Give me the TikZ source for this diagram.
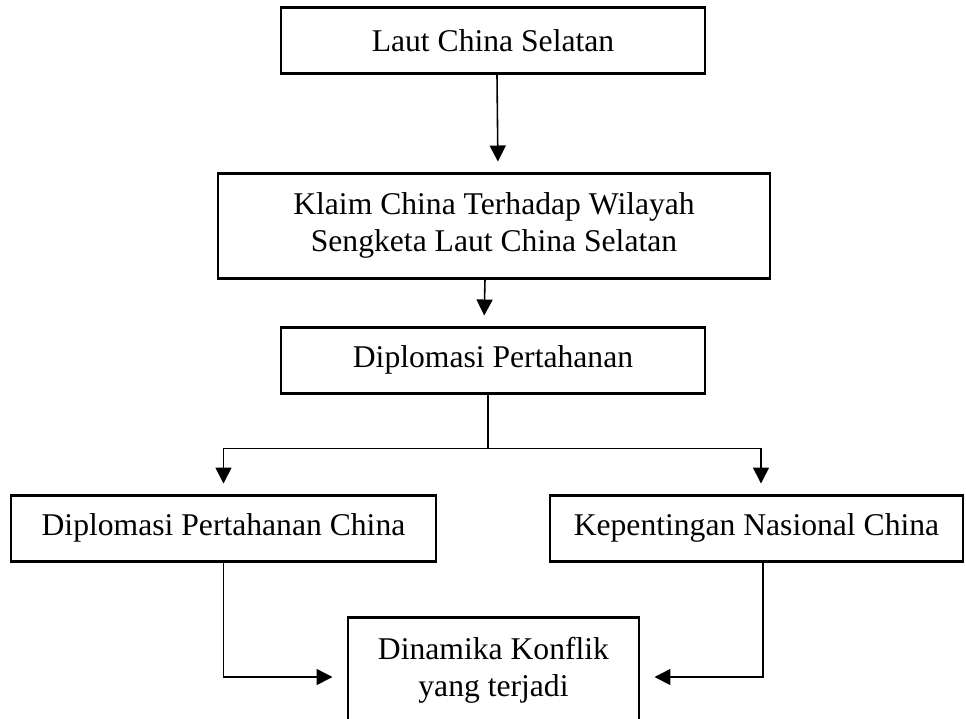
\documentclass[tikz,border=0pt]{standalone}
\usepackage{fontspec}
\setmainfont{Liberation Serif}
\usetikzlibrary{arrows.meta}

\begin{document}
\begin{tikzpicture}[
    >={Triangle[length=0.16cm,width=0.16cm]},
    box/.style={draw, line width=0.85pt, align=center, inner sep=0pt, font=\fontsize{9}{10.5}\selectfont},
    wide/.style={box, minimum width=4.24cm, minimum height=0.66cm},
    arr/.style={->, line width=0.45pt, shorten >=0.1cm},
    conn/.style={line width=0.45pt}
]
    \useasboundingbox (0,0) rectangle (9.66,-7.18);
    \clip (0,0) rectangle (9.66,-7.18);
    % boxes
    \node[wide] (lcs) at (4.93,-0.405) {Laut China Selatan};
    \node[box, minimum width=5.52cm, minimum height=1.05cm] (klaim) at (4.94,-2.255)
        {Klaim China Terhadap Wilayah\\Sengketa Laut China Selatan};
    \node[wide] (dip) at (4.93,-3.60) {Diplomasi Pertahanan};
    \node[box, minimum width=4.25cm, minimum height=0.66cm] (dipc) at (2.235,-5.28) {Diplomasi Pertahanan China};
    \node[box, minimum width=4.13cm, minimum height=0.66cm] (kep) at (7.565,-5.28) {Kepentingan Nasional China};
    \node[box, minimum width=2.91cm, minimum height=1.05cm] (din) at (4.935,-6.70)
        {Dinamika Konflik\\yang terjadi};
    % connectors
    \draw[arr] ([xshift=0.04cm]lcs.south) -- ([xshift=0.04cm]klaim.north);
    \draw[arr] ([xshift=-0.09cm]klaim.south) -- ([xshift=-0.09cm]dip.north);
    \path ([xshift=-0.05cm]dip.south) ++(0,-0.54) coordinate (split);
    \draw[conn] ([xshift=-0.05cm]dip.south) -- (split);
    \draw[arr] (split) -| (dipc.north);
    \draw[arr] (split) -| ([xshift=0.045cm]kep.north);
    \draw[arr, shorten >=0.14cm] (dipc.south) |- ([yshift=-0.07cm]din.west);
    \draw[arr, shorten >=0.14cm] ([xshift=0.065cm]kep.south) |- ([yshift=-0.07cm]din.east);
\end{tikzpicture}
\end{document}
